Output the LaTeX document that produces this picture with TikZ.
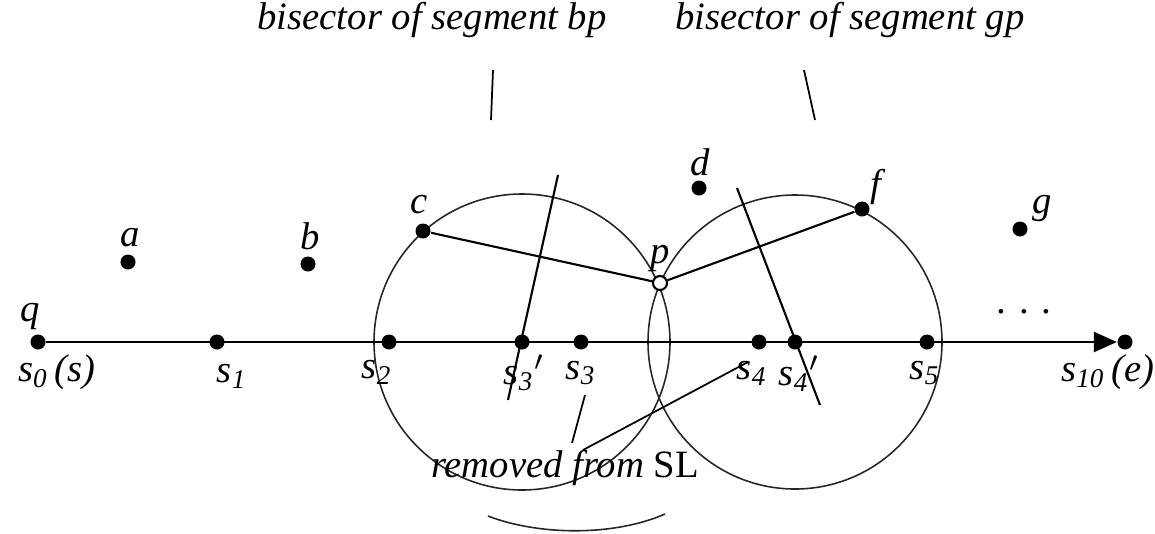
\documentclass[tikz,border=0pt]{standalone}
\usepackage{fontspec}
\setmainfont{Liberation Serif}
\usetikzlibrary{arrows.meta}
\newcommand{\sname}[1]{s\textsubscript{#1}}

\begin{document}
\begin{tikzpicture}[x=0.01cm, y=-0.01cm,
  site/.style={circle, fill=black, inner sep=0pt, minimum size=0.15cm},
  query/.style={circle, draw=black, fill=white, line width=0.6pt,
    inner sep=0pt, minimum size=0.14cm},
  lbl/.style={font=\fontsize{11}{13}\selectfont\itshape, inner sep=0pt},
  axis/.style={-{Triangle[length=0.23cm, width=0.2cm]}, line width=0.75pt},
  seg/.style={line width=0.6pt},
  ring/.style={line width=0.45pt, color=black!85},
  pointer/.style={line width=0.5pt}
]
\useasboundingbox (0,0) rectangle (1155,533);

% circles round s3' and s4'
\draw[ring] (522,342) circle (148);
\draw[ring] (795,342) circle (147);

% sites off the line
\node[site] (a) at (128,262) {};
\node[site] (b) at (308,264) {};
\node[site] (c) at (423,231) {};
\node[site] (d) at (699,188) {};
\node[site] (f) at (862,209) {};
\node[site] (g) at (1020,229) {};

% points on the line
\node[site] (s0)  at (38,342)   {};
\node[site] (s1)  at (217,342)  {};
\node[site] (s2)  at (389,342)  {};
\node[site] (s3p) at (522,342)  {};
\node[site] (s3)  at (581,342)  {};
\node[site] (s4)  at (759,342)  {};
\node[site] (s4p) at (795,342)  {};
\node[site] (s5)  at (927,342)  {};
\node[site] (s10) at (1125,342) {};
\draw[axis] (s0) -- (s10);

\node[query] (p) at (660,283) {};
\foreach \u in {c,f}
  {\draw[seg] (\u) -- (p);}

% bisectors
\coordinate (b1top) at (558,175);
\coordinate (b1bot) at (508,400);
\coordinate (b2top) at (737,188);
\coordinate (b2bot) at (820,405);
\draw[seg] (b1top) -- (b1bot);
\draw[seg] (b2top) -- (b2bot);

% labels
\node[lbl] (lq)   at (30,316)   {q};
\node[lbl] (la)   at (130,238)  {a};
\node[lbl] (lb)   at (310,236)  {b};
\node[lbl] (lc)   at (419,205)  {c};
\node[lbl] (ld)   at (700,162)  {d};
\node[lbl] (lf)   at (876,187)  {f};
\node[lbl] (lg)   at (1042,209) {g};
\node[lbl] (lp)   at (660,258)  {p};
\node[lbl] (ls0)  at (57,372)   {\sname{0}\,(s)};
\node[lbl] (ls1)  at (232,376)  {\sname{1}};
\node[lbl] (ls2)  at (377,372)  {\sname{2}};
\node[lbl] (ls3p) at (524,373)  {\sname{3}$'$};
\node[lbl] (ls3)  at (581,373)  {\sname{3}};
\node[lbl] (ls4)  at (752,373)  {\sname{4}};
\node[lbl] (ls4p) at (799,374)  {\sname{4}$'$};
\node[lbl] (ls5)  at (925,373)  {\sname{5}};
\node[lbl] (ls10) at (1108,372) {\sname{10}\,(e)};
\node[lbl] (dots) at (1025,312) {.\,\,.\,\,.};

\node[lbl] (tbp) at (432,20) {bisector of segment bp};
\node[lbl] (tgp) at (850,20) {bisector of segment gp};
\coordinate (t1a) at (493,70);
\coordinate (t1b) at (491,120);
\coordinate (t2a) at (804,70);
\coordinate (t2b) at (815,120);
\draw[pointer] (t1a) -- (t1b);
\draw[pointer] (t2a) -- (t2b);

\node[lbl] (rm) at (565,468) {removed from \upshape SL};
\coordinate (r1a) at (572,443);
\coordinate (r1b) at (585,395);
\coordinate (r2a) at (583,450);
\coordinate (r2b) at (748,362);
\draw[pointer] (r1a) -- (r1b);
\draw[pointer] (r2a) -- (r2b);
\draw[ring] (488,516) .. controls (540,536) and (615,536) .. (665,514);
\end{tikzpicture}
\end{document}
